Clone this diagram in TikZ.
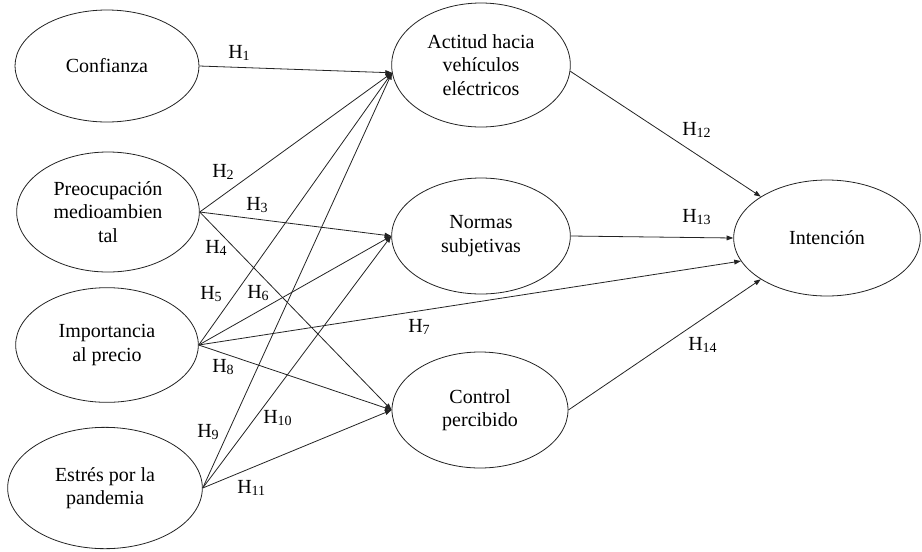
\documentclass[tikz,border=0pt]{standalone}
\usepackage{fontspec}
\setmainfont{Liberation Serif}
\usepackage{tikz}
\usetikzlibrary{arrows.meta,shapes.geometric}
\definecolor{LineGray}{RGB}{35,35,35}
\tikzset{
  latent/.style ={ellipse, draw=LineGray, line width=.6pt, fill=white, text=black,
                  align=center, font=\fontsize{15}{17.6}\selectfont, inner sep=0pt},
  hyp/.style    ={anchor=base west, inner sep=0pt, text=black,
                  font=\fontsize{15}{17.6}\selectfont},
  arr/.style    ={-{Triangle[length=5pt,width=3.6pt]}, draw=LineGray, line width=.6pt},
}
\newcommand{\hh}[1]{H\textsubscript{#1}}

\begin{document}
\begin{tikzpicture}[x=0.75pt,y=-0.75pt]
  \useasboundingbox (0,0) rectangle (922,551);

  % antecedentes
  \node[latent,minimum width=138pt,minimum height=84pt] (con) at (107,66) {Confianza};
  \node[latent,minimum width=137pt,minimum height=90pt] (pre) at (108,212) {Preocupación\\medioambien\\tal};
  \node[latent,minimum width=137pt,minimum height=86pt] (imp) at (107,345) {Importancia\\al precio};
  \node[latent,minimum width=146pt,minimum height=91pt] (est) at (105,488) {Estrés por la\\pandemia};

  % mediadores
  \node[latent,minimum width=134pt,minimum height=93pt] (act) at (481,65) {Actitud hacia\\vehículos\\eléctricos};
  \node[latent,minimum width=134pt,minimum height=87pt] (nor) at (481,236) {Normas\\subjetivas};
  \node[latent,minimum width=132pt,minimum height=87pt] (ctl) at (480,410) {Control\\percibido};

  % resultado
  \node[latent,minimum width=140pt,minimum height=87pt] (int) at (827,238) {Intención};

  % hipotesis
  \draw[arr] (con.east) -- (act.185);
  \draw[arr] (pre.east) -- (act.185);
  \draw[arr] (pre.east) -- (nor.west);
  \draw[arr] (pre.east) -- (ctl.west);
  \draw[arr] (imp.east) -- (act.185);
  \draw[arr] (imp.east) -- (nor.west);
  \draw[arr] (imp.east) -- (int.195);
  \draw[arr] (imp.east) -- (ctl.west);
  \draw[arr] (est.east) -- (act.185);
  \draw[arr] (est.east) -- (nor.west);
  \draw[arr] (est.east) -- (ctl.west);
  \draw[arr] (act.-4) -- (int.148);
  \draw[arr] (nor.east) -- (int.west);
  \draw[arr] (ctl.east) -- (int.212);

  \node[hyp] (h1)  at (228,58)  {\hh{1}};
  \node[hyp] (h2)  at (212,177) {\hh{2}};
  \node[hyp] (h3)  at (246,210) {\hh{3}};
  \node[hyp] (h4)  at (205,253) {\hh{4}};
  \node[hyp] (h5)  at (200,299) {\hh{5}};
  \node[hyp] (h6)  at (247,298) {\hh{6}};
  \node[hyp] (h7)  at (408,332) {\hh{7}};
  \node[hyp] (h8)  at (212,372) {\hh{8}};
  \node[hyp] (h9)  at (197,437) {\hh{9}};
  \node[hyp] (h10) at (263,423) {\hh{10}};
  \node[hyp] (h11) at (237,493) {\hh{11}};
  \node[hyp] (h12) at (682,135) {\hh{12}};
  \node[hyp] (h13) at (682,222) {\hh{13}};
  \node[hyp] (h14) at (688,350) {\hh{14}};
\end{tikzpicture}
\end{document}
